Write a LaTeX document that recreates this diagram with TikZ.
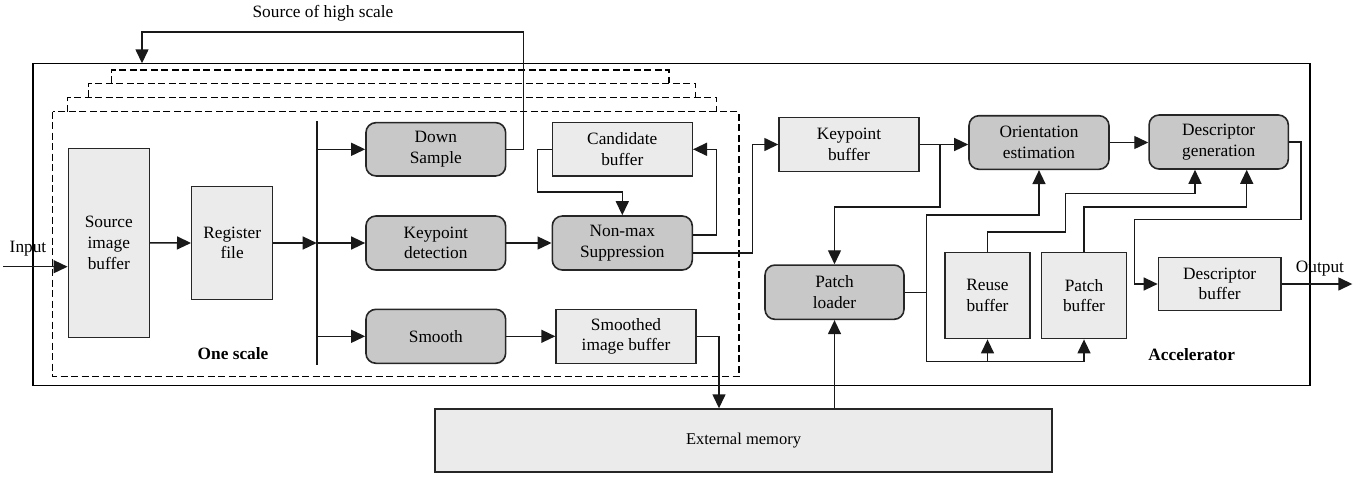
\documentclass[tikz,border=0pt]{standalone}
\usepackage{fontspec}
\setmainfont{Liberation Serif}
\usetikzlibrary{arrows.meta,calc}
\definecolor{lightfill}{HTML}{EBEBEB}
\definecolor{darkfill}{HTML}{C8C8C8}
\tikzset{
  lbox/.style={draw=black!85, line width=1.4pt, fill=lightfill, inner sep=0pt, align=center},
  rbox/.style={draw=black!85, line width=1.6pt, fill=darkfill, rounded corners=10pt, inner sep=0pt, align=center},
  conn/.style={line width=1.4pt, draw=black!90},
  arr/.style={conn, -{Triangle[length=14pt,width=13pt]}},
  dashbox/.style={line width=1.2pt, dash pattern=on 7pt off 3.5pt},
  lbl/.style={inner sep=0pt},
}
\begin{document}
\begin{tikzpicture}[x=1pt,y=-1pt,font=\fontsize{17.3}{20.7}\selectfont]
\useasboundingbox (0,0) rectangle (1368,477);
% outer accelerator box
\draw[line width=1.4pt] (33,63.3) rectangle (1310,385.5);
% dashed scale boxes
\draw[dashbox] (52.7,111.7) rectangle (739,376.7);
\draw[dashbox] (67.7,111.7) -- (67.7,97.3) -- (716.7,97.3) -- (716.7,111.7);
\draw[dashbox] (88.3,97.3) -- (88.3,83.3) -- (695.7,83.3) -- (695.7,97.3);
\draw[dashbox] (111.7,83.3) -- (111.7,70) -- (669,70) -- (669,83.3);

% nodes
\node[lbox, minimum width=81pt, minimum height=189pt] (src) at (108.8,242.8) {Source\\image\\buffer};
\node[lbox, minimum width=81pt, minimum height=112.6pt] (reg) at (232.2,243) {Register\\file};
\node[rbox, minimum width=139.7pt, minimum height=53.3pt] (down) at (435.8,149.3) {Down\\Sample};
\node[rbox, minimum width=139.7pt, minimum height=54pt] (kpd) at (435.8,243) {Keypoint\\detection};
\node[rbox, minimum width=139.7pt, minimum height=54pt] (smooth) at (435.8,336.3) {Smooth};
\node[lbox, minimum width=140pt, minimum height=53.3pt] (cand) at (622.3,149.3) {Candidate\\buffer};
\node[rbox, minimum width=140pt, minimum height=54pt] (nms) at (622.3,243) {Non-max\\Suppression};
\node[lbox, minimum width=140pt, minimum height=54pt] (smb) at (626,336.3) {Smoothed\\image buffer};
\node[lbox, minimum width=140pt, minimum height=54.4pt] (kpb) at (849,144.5) {Keypoint\\buffer};
\node[rbox, minimum width=140pt, minimum height=53.6pt] (ori) at (1039,142.5) {Orientation\\estimation};
\node[rbox, minimum width=139.3pt, minimum height=54pt] (dgen) at (1218.7,142) {Descriptor\\generation};
\node[rbox, minimum width=139pt, minimum height=54.3pt] (pl) at (834.5,292.2) {Patch\\loader};
\node[lbox, minimum width=85pt, minimum height=86pt] (reuse) at (987.5,295.7) {Reuse\\buffer};
\node[lbox, minimum width=85.4pt, minimum height=86pt] (pbuf) at (1084,295.7) {Patch\\buffer};
\node[lbox, minimum width=122.7pt, minimum height=53.4pt] (dbuf) at (1219.7,284) {Descriptor\\buffer};
\node[lbox, minimum width=617pt, minimum height=63pt] (mem) at (743.5,440.5) {\fontsize{16.5}{20}\selectfont External memory};

% labels
\node[lbl] (lhs) at (323,13) {Source of high scale};
\node[lbl] (lin) at (28,249) {Input};
\node[lbl] (lout) at (1320,269) {Output};
\node[lbl, font=\fontsize{17.3}{20.7}\selectfont\bfseries] (lone) at (233,353.3) {One scale};
\node[lbl, font=\fontsize{17.3}{20.7}\selectfont\bfseries] (lacc) at (1191.7,355) {Accelerator};

% coordinates
\coordinate (hs) at (142,63.3);
\coordinate (in) at (3,266.7);
\coordinate (bt) at (316.7,121);
\coordinate (bb) at (316.7,365);
\coordinate (out) at (1352.3,284);

% connectors
\draw[arr] (down.east) -| (523.3,32) -| (hs);
\draw[arr] (in) -- (in -| src.west);
\draw[arr] (src.east) -- (reg.west);
\draw[conn, line width=1.8pt] (bt) -- (bb);
\draw[arr] (reg.east) -- (reg.east -| bt);
\draw[arr] (down.west -| bt) -- (down.west);
\draw[arr] (kpd.west -| bt) -- (kpd.west);
\draw[arr] (smooth.west -| bt) -- (smooth.west);
\draw[arr] (kpd.east) -- (nms.west);
\draw[arr] (cand.west) -| (537.3,192) -| (nms.north);
\draw[arr] ([yshift=8pt]nms.east) -- ++(23.4,0) |- (cand.east);
\draw[arr] ([yshift=-10pt]nms.east) -- ++(59.4,0) |- (kpb.west);
\draw[arr] (smooth.east) -- (smb.west);
\draw[arr] (smb.east) -- ++(22.3,0) coordinate (t1) -- (t1 |- mem.north);
\draw[arr] (kpb.east) -- (kpb.east -| ori.west);
\draw[arr] ($(kpb.east)+(20.3,0)$) |- ($(pl.north)+(0,-57.3)$) -- (pl.north);
\draw[arr] (mem.north -| pl.south) -- (pl.south);
\draw[conn] (pl.east) -- ++(21.7,0) coordinate (j);
\draw[arr] (j) |- ($(ori.south)+(0,45)$) -- (ori.south);
\draw[arr] (j) |- ($(pbuf.south)+(0,22.3)$) -- (pbuf.south);
\draw[arr] ($(reuse.south)+(0,22.3)$) -- (reuse.south);
\draw[arr] (ori.east) -- (ori.east -| dgen.west);
\draw[arr] (reuse.north) -- ++(0,-20) -| (1065.7,193.3) -| ($(dgen.south)+(-23.7,0)$);
\draw[arr] (pbuf.north) -- ++(0,-45) -| ($(dgen.south)+(28,0)$);
\draw[arr] (dgen.east) -| (1301,219.3) -| (1134.3,284) -- (dbuf.west);
\draw[arr] (dbuf.east) -- (out);
\end{tikzpicture}
\end{document}
